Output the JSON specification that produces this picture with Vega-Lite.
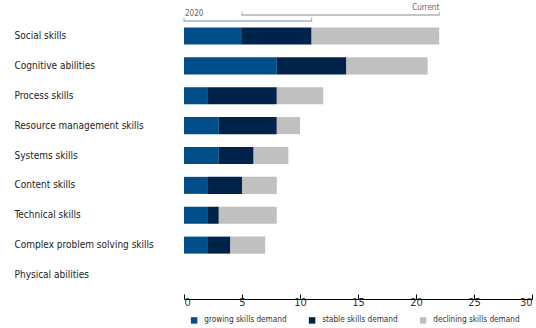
{
  "$schema": "https://vega.github.io/schema/vega-lite/v6.json",
  "padding": {"left": 14, "top": 4, "right": 0, "bottom": 0},
  "config": {
    "view": {"stroke": null},
    "font": "DejaVu Sans Condensed, Liberation Sans, sans-serif",
    "concat": {"spacing": 2}
  },
  "resolve": {"scale": {"color": "independent"}, "legend": {"color": "independent"}},
  "vconcat": [
    {
      "width": 348,
      "height": 6,
      "data": {"values": [
        {"period": "Current", "start": 5, "end": 22},
        {"period": "2020", "start": 0, "end": 11}
      ]},
      "encoding": {
        "y": {"field": "period", "type": "nominal", "sort": ["Current", "2020"], "scale": {"type": "point", "padding": 0}, "axis": null},
        "color": {"field": "period", "type": "nominal", "scale": {"domain": ["Current", "2020"], "range": ["#8c8c8c", "#7b8db0"]}, "legend": null}
      },
      "layer": [
        {
          "mark": {"type": "rule", "strokeWidth": 1},
          "encoding": {
            "x": {"field": "start", "type": "quantitative", "scale": {"domain": [0, 30]}, "axis": null},
            "x2": {"field": "end"}
          }
        },
        {
          "mark": {"type": "tick", "orient": "vertical", "size": 4, "thickness": 1, "yOffset": -1.5},
          "encoding": {"x": {"field": "start", "type": "quantitative", "scale": {"domain": [0, 30]}, "axis": null}}
        },
        {
          "mark": {"type": "tick", "orient": "vertical", "size": 4, "thickness": 1, "yOffset": -1.5},
          "encoding": {"x": {"field": "end", "type": "quantitative", "scale": {"domain": [0, 30]}, "axis": null}}
        },
        {
          "transform": [{"filter": "datum.period === '2020'"}],
          "mark": {"type": "text", "align": "left", "baseline": "bottom", "dy": -3, "dx": 1, "fontSize": 8},
          "encoding": {"x": {"field": "start", "type": "quantitative", "scale": {"domain": [0, 30]}, "axis": null}, "text": {"field": "period"}, "color": {"value": "#666"}}
        },
        {
          "transform": [{"filter": "datum.period === 'Current'"}],
          "mark": {"type": "text", "align": "right", "baseline": "bottom", "dy": -3, "fontSize": 8},
          "encoding": {"x": {"field": "end", "type": "quantitative", "scale": {"domain": [0, 30]}, "axis": null}, "text": {"field": "period"}, "color": {"value": "#666"}}
        }
      ]
    },
    {
      "width": 348,
      "height": 263,
      "data": {"values": [
        {"skill": "Social skills", "status": "growing skills demand", "value": 5},
        {"skill": "Social skills", "status": "stable skills demand", "value": 6},
        {"skill": "Social skills", "status": "declining skills demand", "value": 11},
        {"skill": "Cognitive abilities", "status": "growing skills demand", "value": 8},
        {"skill": "Cognitive abilities", "status": "stable skills demand", "value": 6},
        {"skill": "Cognitive abilities", "status": "declining skills demand", "value": 7},
        {"skill": "Process skills", "status": "growing skills demand", "value": 2},
        {"skill": "Process skills", "status": "stable skills demand", "value": 6},
        {"skill": "Process skills", "status": "declining skills demand", "value": 4},
        {"skill": "Resource management skills", "status": "growing skills demand", "value": 3},
        {"skill": "Resource management skills", "status": "stable skills demand", "value": 5},
        {"skill": "Resource management skills", "status": "declining skills demand", "value": 2},
        {"skill": "Systems skills", "status": "growing skills demand", "value": 3},
        {"skill": "Systems skills", "status": "stable skills demand", "value": 3},
        {"skill": "Systems skills", "status": "declining skills demand", "value": 3},
        {"skill": "Content skills", "status": "growing skills demand", "value": 2},
        {"skill": "Content skills", "status": "stable skills demand", "value": 3},
        {"skill": "Content skills", "status": "declining skills demand", "value": 3},
        {"skill": "Technical skills", "status": "growing skills demand", "value": 2},
        {"skill": "Technical skills", "status": "stable skills demand", "value": 1},
        {"skill": "Technical skills", "status": "declining skills demand", "value": 5},
        {"skill": "Complex problem solving skills", "status": "growing skills demand", "value": 2},
        {"skill": "Complex problem solving skills", "status": "stable skills demand", "value": 2},
        {"skill": "Complex problem solving skills", "status": "declining skills demand", "value": 3},
        {"skill": "Physical abilities", "status": "growing skills demand", "value": 0},
        {"skill": "Physical abilities", "status": "stable skills demand", "value": 0},
        {"skill": "Physical abilities", "status": "declining skills demand", "value": 0}
      ]},
      "transform": [
        {"calculate": "indexof(['growing skills demand', 'stable skills demand', 'declining skills demand'], datum.status)", "as": "stackOrder"}
      ],
      "mark": {"type": "bar"},
      "encoding": {
        "y": {
          "field": "skill", "type": "nominal", "sort": null,
          "scale": {"paddingInner": 0.43, "paddingOuter": 0.117},
          "axis": {"title": null, "domain": false, "ticks": false, "labelAlign": "left", "labelPadding": 170, "labelFontSize": 10, "labelColor": "#222", "labelLimit": 200}
        },
        "x": {
          "field": "value", "type": "quantitative", "stack": "zero",
          "scale": {"domain": [0, 30]},
          "axis": {"title": null, "values": [0, 5, 10, 15, 20, 25, 30], "grid": false, "tickSize": -5, "domainColor": "#000", "tickColor": "#000", "labelFontSize": 11, "labelColor": "#333", "offset": 12, "labelPadding": 2}
        },
        "order": {"field": "stackOrder", "type": "quantitative", "sort": "ascending"},
        "color": {
          "field": "status", "type": "nominal",
          "sort": ["growing skills demand", "stable skills demand", "declining skills demand"],
          "scale": {"domain": ["growing skills demand", "stable skills demand", "declining skills demand"], "range": ["#004f8b", "#00234a", "#c0c0c0"]},
          "legend": {"title": null, "orient": "bottom", "direction": "horizontal", "symbolType": "square", "symbolSize": 42, "labelFontSize": 8.2, "labelColor": "#333", "columnPadding": 21, "labelOffset": 6, "offset": 3, "padding": 6}
        }
      }
    }
  ]
}
